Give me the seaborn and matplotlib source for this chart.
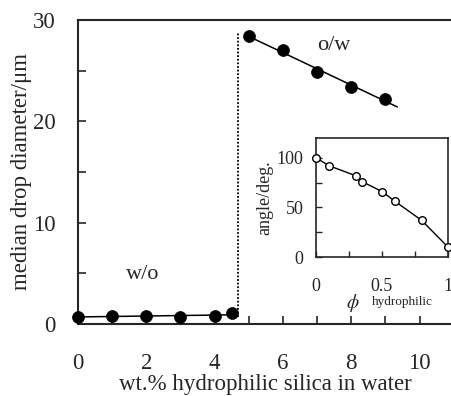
import numpy as np
import matplotlib
matplotlib.use("Agg")
import matplotlib.pyplot as plt
import seaborn as sns

# data
wo_x = [0, 1, 2, 3, 4, 4.5]
wo_y = [0.7, 0.8, 0.8, 0.7, 0.8, 1.05]
ow_x = [5, 6, 7, 8, 9]
ow_y = [28.4, 27.0, 24.9, 23.4, 22.2]
transition_x = 4.68
transition_y = [0.7, 28.85]
ow_fit_end = 9.35

phi = [0, 0.1, 0.3, 0.35, 0.5, 0.6, 0.8, 1.0]
angle = [100, 92, 82, 76, 66, 56, 37, 10]

x_ticks = [0, 2, 4, 6, 8, 10]
y_ticks = [0, 10, 20, 30]

sns.set_style("ticks")
plt.rcParams['font.family'] = ['Liberation Serif', 'DejaVu Serif']
plt.rcParams['mathtext.fontset'] = 'stix'

W, H = 452, 396
fig = plt.figure(figsize=(W / 100, H / 100), dpi=100)
ax = fig.add_axes([78 / W, 72 / H, (452 - 78) / W, (324 - 20) / H])

# main series
kw = dict(color='black', linewidth=1.1, clip_on=False, zorder=3)
cw = np.polyfit(wo_x, wo_y, 1)
xx = np.array([wo_x[0], wo_x[-1]])
ax.plot(xx, np.polyval(cw, xx), **kw)
co = np.polyfit(ow_x, ow_y, 1)
xo = np.array([ow_x[0], ow_fit_end])
ax.plot(xo, np.polyval(co, xo), **kw)
sns.scatterplot(x=wo_x, y=wo_y, ax=ax, color='black', s=74, edgecolor='black',
                linewidth=0.5, zorder=4, clip_on=False)
sns.scatterplot(x=ow_x, y=ow_y, ax=ax, color='black', s=74, edgecolor='black',
                linewidth=0.5, zorder=4, clip_on=False)
ax.plot([transition_x, transition_x], transition_y, color='black',
        linestyle=(0, (1, 1)), linewidth=1.3)

ax.set_xlim(0, 10.95)
ax.set_ylim(0, 30)
ax.set_xticks(x_ticks)
ax.set_xticks([1, 3, 5, 7, 9], minor=True)
ax.set_yticks(y_ticks)
ax.set_yticks([5, 15, 25], minor=True)
ax.tick_params(axis='both', which='both', direction='in', length=6, width=1.2,
               labelsize=16.5)
ax.tick_params(axis='x', which='both', pad=21)
ax.tick_params(axis='y', which='both', pad=16)
for s in ['left', 'bottom', 'top']:
    ax.spines[s].set_linewidth(1.5)
ax.spines['right'].set_visible(False)
ax.set_xlabel('wt.% hydrophilic silica in water', fontsize=16.5, labelpad=0)
ax.set_ylabel('median drop diameter/μm', fontsize=16.5, labelpad=1)
ax.text(7.5, 27.5, 'o/w', fontsize=16, ha='center', va='center')
ax.text(1.9, 4.9, 'w/o', fontsize=16, ha='center', va='center')

# inset
ins = fig.add_axes([316 / W, (H - 257) / H, (448 - 316) / W, (257 - 138) / H])
ins.plot(phi, angle, color='black', linewidth=1.0, zorder=2, clip_on=False)
sns.scatterplot(x=phi, y=angle, ax=ins, facecolor='white', edgecolor='black',
                s=30, linewidth=1.0, zorder=3, clip_on=False)
ins.set_xlim(0, 1)
ins.set_ylim(0, 120)
ins.set_xticks([0, 0.5, 1])
ins.set_xticklabels(['0', '0.5', '1'])
ins.set_xticks([0.25, 0.75], minor=True)
ins.set_yticks([0, 50, 100])
ins.set_yticks([25, 75], minor=True)
ins.tick_params(axis='both', which='both', direction='in', length=4, width=1.0,
                labelsize=13)
ins.tick_params(axis='x', which='both', pad=15)
ins.tick_params(axis='y', which='both', pad=9)
for s in ins.spines.values():
    s.set_linewidth(1.2)
ins.set_ylabel('angle/deg.', fontsize=13, labelpad=2)
ins.set_xlabel('')
fig.text(353 / W, 1 - 303 / H, r'$\phi$', fontsize=14, ha='center', va='center')
fig.text(402 / W, 1 - 302 / H, 'hydrophilic', fontsize=9.5, ha='center', va='center')

fig.savefig('out.png', dpi=100)
